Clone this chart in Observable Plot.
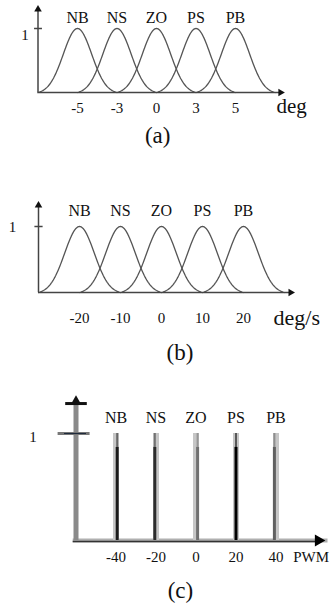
<!DOCTYPE html>
<html><head><meta charset="utf-8">
<script src="https://cdn.jsdelivr.net/npm/d3@7"></script>
<script src="https://cdn.jsdelivr.net/npm/@observablehq/plot@0.6"></script>
<style>
body{margin:0;background:#fff}
#chart{width:333px}
#chart svg{display:block}
</style>
</head><body><div id="chart"></div>
<script>
// ---- data ----
const sets = ["NB", "NS", "ZO", "PS", "PB"];
const centers = [-2, -1, 0, 1, 2];           // slot positions of the fuzzy sets
const ticksA = ["-5", "-3", "0", "3", "5"];
const ticksB = ["-20", "-10", "0", "10", "20"];
const ticksC = ["-40", "-20", "0", "20", "40"];
const units = ["deg", "deg/s", "PWM"];
const captions = ["(a)", "(b)", "(c)"];
const sigma = 0.36;       // bell spread (slot units)
const support = 1;        // bell half-support (slot units)

const FONT = "'Liberation Serif', 'DejaVu Serif', serif";

function bellData() {
  const g1 = Math.exp(-(support * support) / (2 * sigma * sigma));
  const out = [];
  sets.forEach((s, i) => {
    const c = centers[i];
    for (let k = 0; k <= 100; k++) {
      const x = c - support + k * (2 * support / 100);
      const g = Math.exp(-((x - c) ** 2) / (2 * sigma * sigma));
      out.push({set: s, x, y: Math.max(0, (g - g1) / (1 - g1))});
    }
  });
  return out;
}
const bells = bellData();

function bellPanel(o) {
  return Plot.plot({
    width: 333, height: o.height,
    x: {domain: [-3, 3], range: o.xr, axis: null},
    y: {domain: [0, 1], range: o.yr, axis: null},
    style: {fontFamily: FONT, background: "#fff", color: "#111"},
    marks: [
      Plot.line(bells, {x: "x", y: "y", z: "set", stroke: "#555", strokeWidth: 1.3}),
      Plot.ruleX([-3], {y1: 0, y2: o.axisTop, stroke: "#444", strokeWidth: 1.5}),
      Plot.ruleY([0], {x1: -3, x2: o.xEnd, stroke: "#444", strokeWidth: 1.5}),
      Plot.dot([0], {x: -3, y: o.axisTop, symbol: "triangle", r: 2.8, fill: "#111", stroke: null}),
      Plot.dot([0], {x: o.xEnd, y: 0, symbol: "triangle", r: 2.8, rotate: 90, fill: "#111", stroke: null}),
      Plot.link([0], {x1: -3.1, x2: -2.9, y1: 1, y2: 1, stroke: "#444", strokeWidth: 1.5}),
      Plot.text(["1"], {x: -3, y: 1, text: d => d, dx: o.oneDx, dy: o.oneDy, fontSize: 15, fontFamily: FONT}),
      Plot.text(sets, {x: (d, i) => centers[i], y: 1, dy: o.labelDy, text: d => d, fontSize: 16, fontFamily: FONT}),
      Plot.text(o.ticks, {x: (d, i) => centers[i], y: 0, dy: o.tickDy, text: d => d, fontSize: 15, fontFamily: FONT}),
      Plot.text([o.unit], {x: o.unitX, y: 0, dy: o.unitDy, text: d => d, fontSize: o.unitSize, fontFamily: FONT}),
      Plot.text([o.caption], {x: o.capX, y: 0, dy: o.capDy, text: d => d, fontSize: 23, fontFamily: FONT})
    ]
  });
}

const spikeCore = ["#1a1a1a", "#2c2c2c", "#707070", "#000000", "#606060"];
const spikeShift = [0.03, -0.03, 0.04, 0, -0.04];

function spikePanel(o) {
  return Plot.plot({
    width: 333, height: o.height,
    x: {domain: [-3, 3], range: o.xr, axis: null},
    y: {domain: [0, 1], range: o.yr, axis: null},
    color: {type: "identity"},
    style: {fontFamily: FONT, background: "#fff", color: "#111"},
    marks: [
      Plot.ruleY([0], {x1: -3.07, x2: 3.3, stroke: "#b0b0b0", strokeWidth: 4}),
      Plot.ruleX(centers, {y1: 0, y2: 1, stroke: "#c6c6c6", strokeWidth: 6}),
      Plot.ruleX(centers, {x: (d, i) => d + spikeShift[i], y1: 0, y2: 0.87, stroke: (d, i) => spikeCore[i], strokeWidth: 3}),
      Plot.ruleX(centers, {x: (d, i) => d + spikeShift[i], y1: 0.87, y2: 1, stroke: (d, i) => spikeCore[i], strokeWidth: 2, strokeOpacity: 0.55}),
      Plot.ruleY([0], {x1: -3.07, x2: 3.08, stroke: "#333", strokeWidth: 1.6, dy: 1}),
      Plot.dot([0], {x: 3.06, y: 0, symbol: "triangle", r: 4.5, rotate: 90, fill: "#000", stroke: null}),
      Plot.ruleX([-3], {y1: 0, y2: o.axisTop, stroke: "#8a8a8a", strokeWidth: 5}),
      Plot.link([0], {x1: -3.27, x2: -2.73, y1: o.axisTop, y2: o.axisTop, stroke: "#111", strokeWidth: 3}),
      Plot.dot([0], {x: -3, y: o.axisTop, symbol: "triangle", r: 4, fill: "#111", stroke: null, dy: -2}),
      Plot.link([0], {x1: -3.46, x2: -2.66, y1: 1, y2: 1, stroke: "#777", strokeWidth: 3}),
      Plot.link([0], {x1: -3.3, x2: -2.75, y1: 1, y2: 1, stroke: "#1e2a3c", strokeWidth: 1}),
      Plot.text(["1"], {x: -3, y: 1, text: d => d, dx: o.oneDx, dy: o.oneDy, fontSize: 15, fontFamily: FONT}),
      Plot.text(sets, {x: (d, i) => centers[i], y: 1, dy: o.labelDy, text: d => d, fontSize: 16, fontFamily: FONT}),
      Plot.text(o.ticks, {x: (d, i) => centers[i], y: 0, dy: o.tickDy, text: d => d, fontSize: 15, fontFamily: FONT}),
      Plot.text([o.unit], {x: o.unitX, y: 0, dy: o.unitDy, text: d => d, fontSize: o.unitSize, fontFamily: FONT}),
      Plot.text([o.caption], {x: o.capX, y: 0, dy: o.capDy, text: d => d, fontSize: 23, fontFamily: FONT})
    ]
  });
}

const root = document.getElementById("chart");
root.append(bellPanel({
  height: 190, xr: [37.5, 37.5 + 6 * 39.5], yr: [92, 28],
  axisTop: 1.3, xEnd: 3.14, labelDy: -11, tickDy: 16,
  oneDx: -13, oneDy: 7, ticks: ticksA,
  unit: units[0], unitX: 3.42, unitDy: 14, unitSize: 21,
  caption: captions[0], capX: 0.03, capDy: 43
}));
root.append(bellPanel({
  height: 200, xr: [38, 38 + 6 * 41], yr: [102, 36],
  axisTop: 1.32, xEnd: 3.15, labelDy: -16, tickDy: 26,
  oneDx: -26, oneDy: 1, ticks: ticksB,
  unit: units[1], unitX: 3.3, unitDy: 25, unitSize: 22,
  caption: captions[1], capX: 0.45, capDy: 60
}));
root.append(spikePanel({
  height: 222, xr: [75.5, 75.5 + 6 * 40], yr: [150, 43],
  axisTop: 1.28, labelDy: -16, tickDy: 17,
  oneDx: -43, oneDy: 4, ticks: ticksC,
  unit: units[2], unitX: 2.88, unitDy: 17, unitSize: 15,
  caption: captions[2], capX: -0.39, capDy: 50
}));
</script>
</body></html>
